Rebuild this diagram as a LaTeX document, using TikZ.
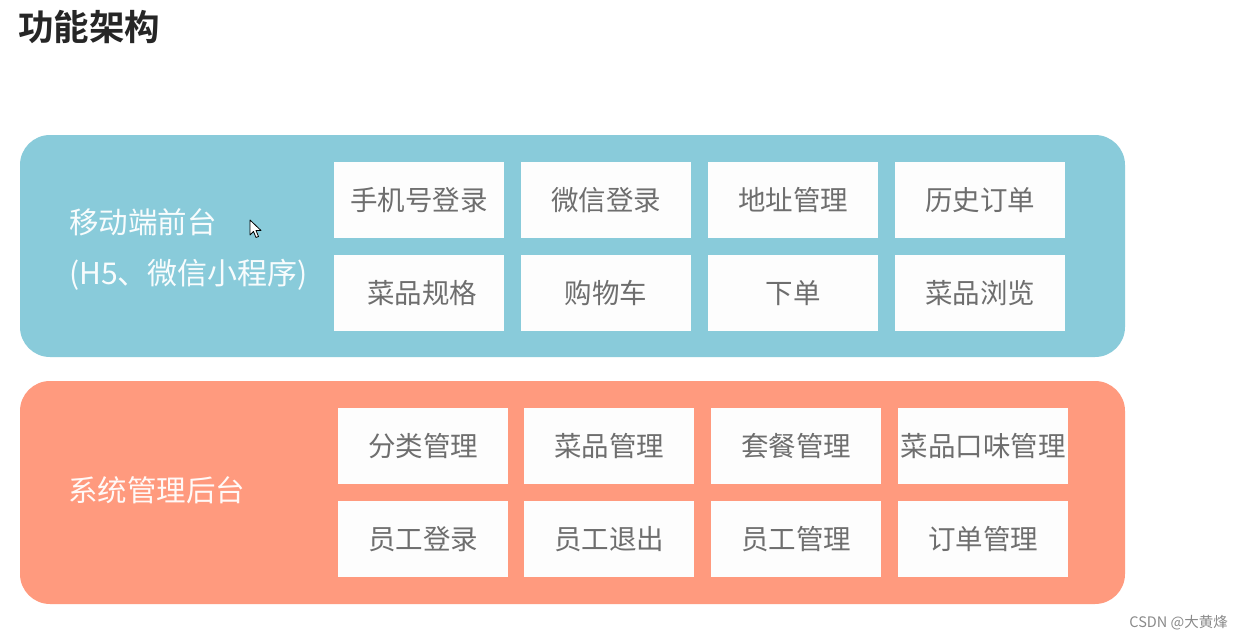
\documentclass[tikz,border=0pt]{standalone}
\usepackage{fontspec}
\newfontfamily\cjk{Noto Sans CJK SC}
\newfontfamily\cjkb{Noto Sans CJK SC}[BoldFont={Noto Sans CJK SC Bold}]
\definecolor{panelblue}{HTML}{89CBDA}
\definecolor{panelorange}{HTML}{FF9A7E}
\definecolor{boxtext}{HTML}{6E6E6E}
\definecolor{boxfill}{HTML}{FDFDFD}
\definecolor{wmgray}{HTML}{8A8A8A}
\newcommand\boxlbl[1]{\raisebox{-3pt}{#1}}
\tikzset{
  panel/.style={rounded corners=30pt, inner sep=0pt},
  item/.style={rectangle, fill=boxfill, inner sep=0pt, minimum width=170pt, minimum height=76pt,
    text=boxtext, font=\cjk\fontsize{27.5}{30}\selectfont},
  side/.style={anchor=west, inner sep=0pt, text=white!94!panelblue, font=\cjk\fontsize{29.5}{32}\selectfont},
}
\begin{document}
\begin{tikzpicture}[x=1pt,y=1pt]
\useasboundingbox (0,0) rectangle (1243,-640);
\fill[white] (0,0) rectangle (1243,-640);
\node[anchor=west, inner sep=0pt, text=black!85, font=\cjkb\bfseries\fontsize{35.5}{38}\selectfont] (title) at (18,-27) {功能架构};
% panels
\fill[panelblue, panel] (20,-135) rectangle (1125,-357);
\fill[panelorange, panel] (20,-381) rectangle (1125,-604);
\node[side] (m1) at (69,-222) {移动端前台};
\node[side, font=\cjk\fontsize{30}{32}\selectfont] (m2) at (69,-275) {(H5、微信小程序)};
\node[side, text=white!94!panelorange] (s1) at (68,-490) {系统管理后台};
% blue items
\node[item] (b1) at (419,-200) {\boxlbl{手机号登录}};
\node[item] (b2) at (606,-200) {\boxlbl{微信登录}};
\node[item] (b3) at (793,-200) {\boxlbl{地址管理}};
\node[item] (b4) at (980,-200) {\boxlbl{历史订单}};
\node[item] (b5) at (419,-293) {\boxlbl{\hspace{6pt}菜品规格}};
\node[item] (b6) at (606,-293) {\boxlbl{购物车}};
\node[item] (b7) at (793,-293) {\boxlbl{下单}};
\node[item] (b8) at (980,-293) {\boxlbl{菜品浏览}};
% orange items
\node[item] (o1) at (423,-446) {\boxlbl{分类管理}};
\node[item] (o2) at (609,-446) {\boxlbl{菜品管理}};
\node[item] (o3) at (796,-446) {\boxlbl{套餐管理}};
\node[item] (o4) at (983,-446) {\boxlbl{菜品口味管理}};
\node[item] (o5) at (423,-539) {\boxlbl{员工登录}};
\node[item] (o6) at (609,-539) {\boxlbl{员工退出}};
\node[item] (o7) at (796,-539) {\boxlbl{员工管理}};
\node[item] (o8) at (983,-539) {\boxlbl{订单管理}};
% mouse cursor
\filldraw[fill=white, draw=black, line width=0.8pt, line join=round]
  (250,-220) -- (250,-235) -- (253.5,-231.5) -- (256,-237.5) -- (258.5,-236.5) -- (256,-230.5) -- (261,-230.5) -- cycle;
% watermark
\node[anchor=east, inner sep=0pt, text=wmgray, font=\cjk\fontsize{14.5}{16}\selectfont] (wm) at (1228,-623) {CSDN @大黄烽};
\end{tikzpicture}
\end{document}
